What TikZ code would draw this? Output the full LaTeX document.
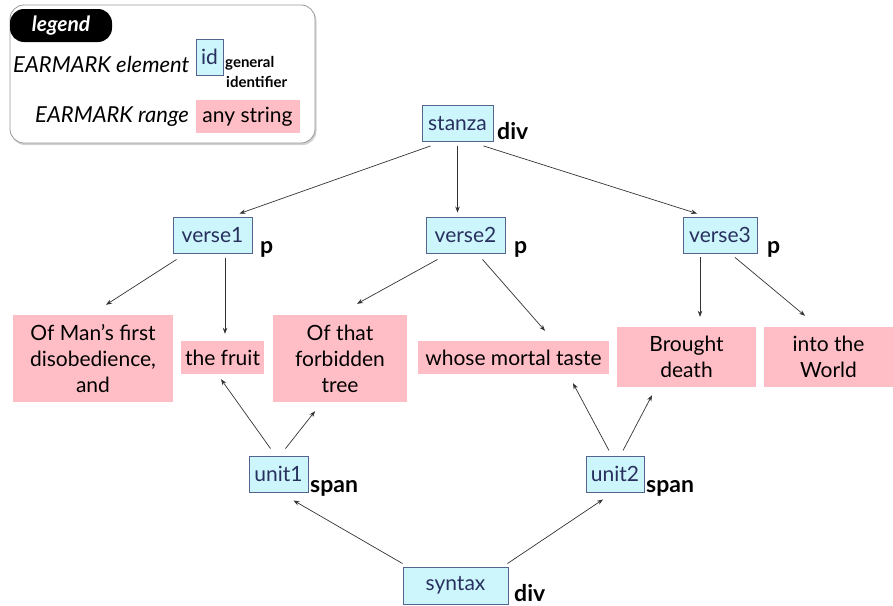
\documentclass[tikz,border=0pt]{standalone}
\usepackage{fontspec}
\setmainfont{Lato}
\usetikzlibrary{arrows.meta,calc}
\definecolor{boxblue}{HTML}{CCF6FC}
\definecolor{boxedge}{HTML}{55648F}
\definecolor{idtext}{HTML}{28305E}
\definecolor{pinkbox}{HTML}{FFBEC5}
\definecolor{legedge}{HTML}{9A9A9A}
\begin{document}
\begin{tikzpicture}[x=1pt,y=-1pt,
  elem/.style={draw=boxedge, line width=0.9pt, fill=boxblue, text=idtext,
    font=\fontsize{21}{24}\selectfont, inner sep=0pt},
  rng/.style={fill=pinkbox, text=black, font=\fontsize{21}{26}\selectfont,
    align=center, inner sep=0pt},
  tag/.style={font=\bfseries\fontsize{23}{24}\selectfont, anchor=base west, inner sep=0pt},
  arr/.style={-{Stealth[length=6pt,width=4.5pt]}, line width=0.7pt, draw=black!80}]
\useasboundingbox (0,0) rectangle (893,605);
% legend
\fill[black!18, rounded corners=14pt] (11,7) rectangle (316.5,145);
\draw[legedge, fill=white, line width=0.8pt, rounded corners=14pt] (10,5) rectangle (315,143);
\node[fill=black, rounded corners=14pt, minimum width=102pt, minimum height=33pt, inner sep=0pt,
  text=white, font=\bfseries\itshape\fontsize{21}{24}\selectfont] (legend) at (61,25.5) {legend};
\node[anchor=base west, inner sep=0pt, font=\itshape\fontsize{22}{24}\selectfont] (lel) at (13,72) {EARMARK element};
\node[elem, minimum width=27pt, minimum height=36pt] (lid) at (209.5,57) {id};
\node[anchor=base west, inner sep=0pt, font=\bfseries\fontsize{15}{17}\selectfont] (lgen) at (225,67) {general};
\node[anchor=base west, inner sep=0pt, font=\bfseries\fontsize{15}{17}\selectfont] (lidf) at (226,87) {identifier};
\node[anchor=base west, inner sep=0pt, font=\itshape\fontsize{22}{24}\selectfont] (lrg) at (35,122) {EARMARK range};
\node[rng, minimum width=104pt, minimum height=33pt] (lany) at (247.5,116.5) {any string};
% elements
\node[elem, minimum width=71pt, minimum height=36pt] (stanza) at (457.5,123.5) {stanza};
\node[tag] (divA) at (497,139) {div};
\node[elem, minimum width=79pt, minimum height=36pt] (verse1) at (212.5,235) {verse1};
\node[tag] (pA) at (260,253) {p};
\node[elem, minimum width=79pt, minimum height=36pt] (verse2) at (465.5,235) {verse2};
\node[tag] (pB) at (514,253) {p};
\node[elem, minimum width=74pt, minimum height=36pt] (verse3) at (720,235) {verse3};
\node[tag] (pC) at (767,253) {p};
% ranges
\node[rng, minimum width=160pt, minimum height=87pt] (ofman) at (93,358.5) {Of Man's first\\disobedience,\\and};
\node[rng, minimum width=83pt, minimum height=33pt] (fruit) at (222.5,357.5) {the fruit};
\node[rng, minimum width=134pt, minimum height=87pt] (ofthat) at (340,358.5) {Of that\\forbidden\\tree};
\node[rng, minimum width=191pt, minimum height=33pt] (whose) at (513.5,357.5) {whose mortal taste};
\node[rng, minimum width=139pt, minimum height=60pt] (brought) at (686.5,357) {Brought\\death};
\node[rng, minimum width=129pt, minimum height=60pt] (into) at (828.5,357) {into the\\World};
% units
\node[elem, minimum width=59pt, minimum height=36pt] (unit1) at (278.5,474) {unit1};
\node[tag] (spanA) at (310,492) {span};
\node[elem, minimum width=58pt, minimum height=36pt] (unit2) at (615,474) {unit2};
\node[tag] (spanB) at (646,492) {span};
\node[elem, minimum width=105pt, minimum height=37pt] (syntax) at (455.5,585.5) {syntax};
\node[tag] (divB) at (514,601.5) {div};
% arrows
\draw[arr] ($(stanza.south)+(-27,4)$) -- ($(verse1.north)+(27,-3)$);
\draw[arr] ($(stanza.south)+(0,4)$) -- ($(verse2.north)+(-8,-4)$);
\draw[arr] ($(stanza.south)+(26,4)$) -- ($(verse3.north)+(-23,-3)$);
\draw[arr] ($(verse1.south)+(-36,6)$) -- ($(ofman.north)+(13,-10)$);
\draw[arr] ($(verse1.south)+(12.5,5)$) -- ($(fruit.north)+(2.5,-7)$);
\draw[arr] ($(verse2.south)+(-28,6)$) -- ($(ofthat.north)+(17,-11)$);
\draw[arr] ($(verse2.south)+(17,6)$) -- ($(whose.north)+(31.5,-10)$);
\draw[arr] ($(verse3.south)+(-20,4)$) -- ($(brought.north)+(13.5,-10)$);
\draw[arr] ($(verse3.south)+(15,4)$) -- ($(into.north)+(-23.5,-11)$);
\draw[arr] ($(unit1.north)+(-8,-7)$) -- ($(fruit.south)+(-1.5,5)$);
\draw[arr] ($(unit1.north)+(7,-7)$) -- ($(ofthat.south)+(-25,9)$);
\draw[arr] ($(unit2.north)+(-6,-5)$) -- ($(whose.south)+(59.5,9)$);
\draw[arr] ($(unit2.north)+(8,-5)$) -- ($(brought.south)+(-34.5,8)$);
\draw[arr] ($(syntax.north west)+(0,-3)$) -- ($(unit1.south)+(15,8)$);
\draw[arr] ($(syntax.north east)+(-1,-3)$) -- ($(unit2.south)+(-12,7)$);
\end{tikzpicture}
\end{document}
